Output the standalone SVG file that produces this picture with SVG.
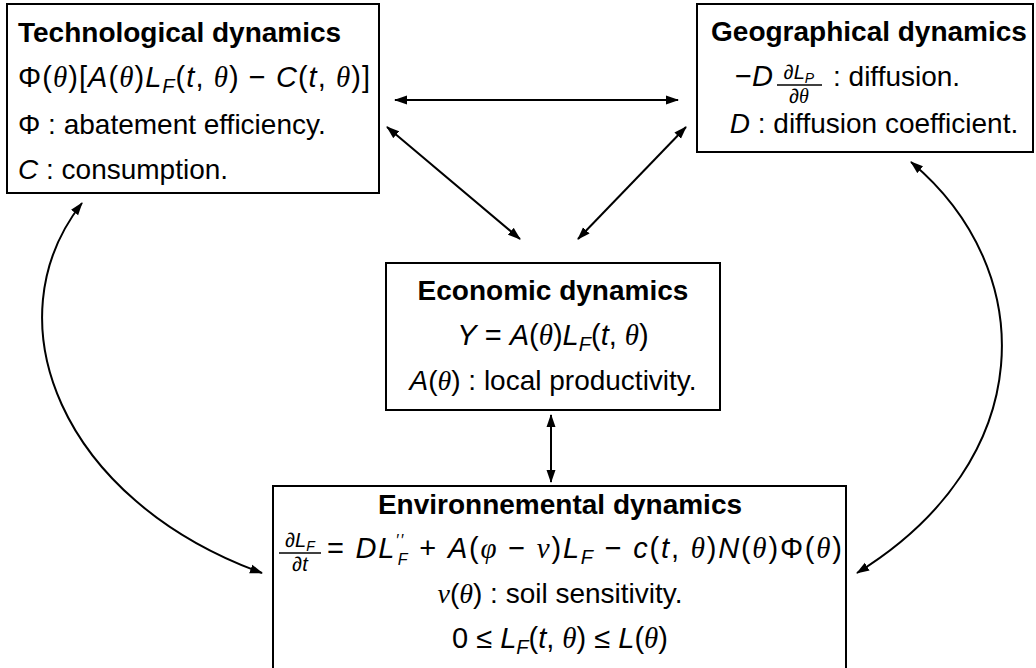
<svg xmlns="http://www.w3.org/2000/svg" width="1036" height="668" viewBox="0 0 1036 668">
<defs>
<style>
.t{font-family:"Liberation Sans",Arial,sans-serif;font-size:28px;fill:#000}
.m{font-size:29px}
.b{font-weight:bold}
.i{font-style:italic}
.g{font-family:"Liberation Serif","Times New Roman",serif;font-style:italic}
.s{font-size:20px}
.box{fill:#fff;stroke:#000;stroke-width:2}
.c{fill:none;stroke:#000;stroke-width:2}
.bar{stroke:#000;stroke-width:1.3}
</style>
<marker id="ah" viewBox="0 0 13 10" refX="12" refY="5" markerWidth="13" markerHeight="10" markerUnits="userSpaceOnUse" orient="auto-start-reverse">
<path d="M0,0.5 L13,5 L0,9.5 z" fill="#000"/>
</marker>
</defs>
<rect width="1036" height="668" fill="#fff"/>
<g id="connectors">
<line class="c" x1="395" y1="100" x2="678" y2="100" marker-start="url(#ah)" marker-end="url(#ah)"/>
<line class="c" x1="387" y1="127" x2="520" y2="239" marker-start="url(#ah)" marker-end="url(#ah)"/>
<line class="c" x1="686" y1="127" x2="578" y2="239" marker-start="url(#ah)" marker-end="url(#ah)"/>
<line class="c" x1="551" y1="415" x2="551" y2="482" marker-start="url(#ah)" marker-end="url(#ah)"/>
<path class="c" d="M82,203 C-10,320 60,500 262,573" marker-start="url(#ah)" marker-end="url(#ah)"/>
<path class="c" d="M911,162 C1040,270 1040,460 857,573" marker-start="url(#ah)" marker-end="url(#ah)"/>
</g>
<g id="tech">
<rect class="box" x="7" y="4" width="372" height="189"/>
<text class="t b" x="18" y="42">Technological dynamics</text>
<text class="t m" x="18" y="87" textLength="352" lengthAdjust="spacing">Φ(<tspan class="g">θ</tspan>)[<tspan class="i">A</tspan>(<tspan class="g">θ</tspan>)<tspan class="i">L</tspan><tspan class="i s" dy="6">F</tspan><tspan dy="-6">(</tspan><tspan class="i">t</tspan>, <tspan class="g">θ</tspan>)  −  <tspan class="i">C</tspan>(<tspan class="i">t</tspan>, <tspan class="g">θ</tspan>)]</text>
<text class="t" x="18" y="134">Φ : abatement efficiency.</text>
<text class="t" x="18" y="179"><tspan class="i">C</tspan> : consumption.</text>
</g>
<g id="geo">
<rect class="box" x="697" y="4" width="336" height="148"/>
<text class="t b" x="869" y="41" text-anchor="middle">Geographical dynamics</text>
<text class="t m" x="735" y="86">−<tspan class="i">D</tspan></text>
<text class="t s" x="799" y="79" text-anchor="middle">∂<tspan class="i">L</tspan><tspan class="i" font-size="14" dy="4">P</tspan></text>
<line class="bar" x1="777" y1="85" x2="822" y2="85"/>
<text class="t s" x="799" y="103" text-anchor="middle">∂<tspan class="g">θ</tspan></text>
<text class="t" x="833" y="86">: diffusion.</text>
<text class="t" x="874" y="133" text-anchor="middle"><tspan class="i">D</tspan> : diffusion coefficient.</text>
</g>
<g id="econ">
<rect class="box" x="386" y="263" width="334" height="147"/>
<text class="t b" x="553" y="300" text-anchor="middle">Economic dynamics</text>
<text class="t m" x="553" y="345" text-anchor="middle"><tspan class="i">Y</tspan>  =  <tspan class="i">A</tspan>(<tspan class="g">θ</tspan>)<tspan class="i">L</tspan><tspan class="i s" dy="6">F</tspan><tspan dy="-6">(</tspan><tspan class="i">t</tspan>, <tspan class="g">θ</tspan>)</text>
<text class="t" x="553" y="390" text-anchor="middle"><tspan class="i">A</tspan>(<tspan class="g">θ</tspan>) : local productivity.</text>
</g>
<g id="env">
<rect class="box" x="273" y="486" width="573" height="190"/>
<text class="t b" x="560" y="514" text-anchor="middle">Environnemental dynamics</text>
<text class="t s" x="300" y="547" text-anchor="middle">∂<tspan class="i">L</tspan><tspan class="i" font-size="14" dy="4">F</tspan></text>
<line class="bar" x1="279" y1="553" x2="321" y2="553"/>
<text class="t s" x="300" y="571" text-anchor="middle">∂<tspan class="i">t</tspan></text>
<text class="t m" x="327" y="558" textLength="515" lengthAdjust="spacing">=  <tspan class="i">DL</tspan><tspan font-size="16" dy="-12">′′</tspan><tspan class="i" font-size="16" dx="-8" dy="19">F</tspan><tspan dy="-7">  +  </tspan><tspan class="i">A</tspan>(<tspan class="g">φ</tspan>  −  <tspan class="g">ν</tspan>)<tspan class="i">L</tspan><tspan class="i s" dy="6">F</tspan><tspan dy="-6">  −  </tspan><tspan class="i">c</tspan>(<tspan class="i">t</tspan>, <tspan class="g">θ</tspan>)<tspan class="i">N</tspan>(<tspan class="g">θ</tspan>)Φ(<tspan class="g">θ</tspan>)</text>
<text class="t" x="560" y="603" text-anchor="middle"><tspan class="g">ν</tspan>(<tspan class="g">θ</tspan>) : soil sensitivity.</text>
<text class="t m" x="560" y="648" text-anchor="middle">0  ≤  <tspan class="i">L</tspan><tspan class="i s" dy="6">F</tspan><tspan dy="-6">(</tspan><tspan class="i">t</tspan>, <tspan class="g">θ</tspan>)  ≤  <tspan class="i">L</tspan>(<tspan class="g">θ</tspan>)</text>
</g>
</svg>
